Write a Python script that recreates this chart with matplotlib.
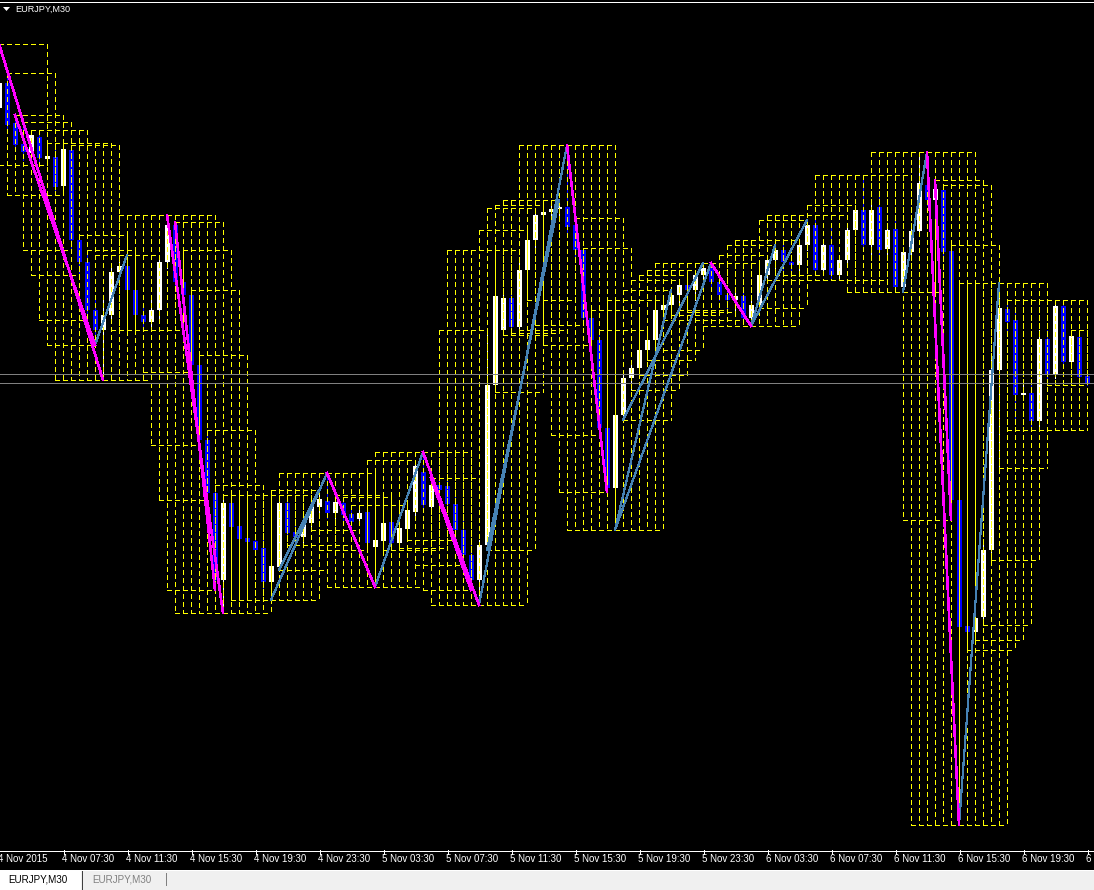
import matplotlib
matplotlib.use("Agg")
import matplotlib.pyplot as plt
from matplotlib.collections import LineCollection
from matplotlib.patches import Rectangle, Polygon
from matplotlib.lines import Line2D
import numpy as np

plt.rcParams['lines.scale_dashes'] = False
plt.rcParams['font.family'] = ['Liberation Sans', 'DejaVu Sans']

symbol = "EURJPY,M30"
first_bar = -1  # bar 0 = 4 Nov 2015 04:00, M30 bars

opens = [132.892, 132.917, 132.877, 132.856, 132.847, 132.863, 132.841, 132.843, 132.814, 132.850,
         132.760, 132.738, 132.690, 132.670, 132.685, 132.728, 132.734, 132.710, 132.685, 132.678,
         132.690, 132.738, 132.775, 132.718, 132.705, 132.635, 132.560, 132.507, 132.420, 132.497,
         132.474, 132.462, 132.459, 132.452, 132.418, 132.433, 132.497, 132.468, 132.463, 132.477,
         132.493, 132.499, 132.487, 132.497, 132.486, 132.481, 132.488, 132.453, 132.459, 132.478,
         132.457, 132.471, 132.488, 132.528, 132.493, 132.515, 132.514, 132.496, 132.470, 132.445,
         132.420, 132.455, 132.615, 132.670, 132.702, 132.673, 132.730, 132.760, 132.785, 132.788,
         132.791, 132.793, 132.775, 132.750, 132.682, 132.660, 132.572, 132.512, 132.585, 132.622,
         132.632, 132.650, 132.660, 132.690, 132.695, 132.705, 132.715, 132.710, 132.725, 132.732,
         132.718, 132.705, 132.700, 132.704, 132.682, 132.695, 132.725, 132.740, 132.750, 132.738,
         132.735, 132.755, 132.775, 132.730, 132.755, 132.725, 132.740, 132.770, 132.790, 132.755,
         132.793, 132.751, 132.771, 132.713, 132.748, 132.769, 132.815, 132.800, 132.810, 132.749,
         132.500, 132.374, 132.368, 132.383, 132.450, 132.630, 132.691, 132.680, 132.605, 132.607,
         132.579, 132.661, 132.626, 132.694, 132.638, 132.663, 132.624]
highs = [132.956, 132.927, 132.885, 132.878, 132.870, 132.870, 132.850, 132.850, 132.857, 132.855,
         132.765, 132.750, 132.705, 132.700, 132.735, 132.740, 132.745, 132.720, 132.695, 132.700,
         132.745, 132.785, 132.778, 132.750, 132.710, 132.645, 132.570, 132.515, 132.500, 132.505,
         132.480, 132.470, 132.465, 132.460, 132.440, 132.505, 132.502, 132.475, 132.485, 132.500,
         132.510, 132.527, 132.505, 132.503, 132.492, 132.495, 132.495, 132.465, 132.482, 132.485,
         132.478, 132.495, 132.540, 132.548, 132.522, 132.520, 132.522, 132.505, 132.480, 132.455,
         132.460, 132.670, 132.750, 132.710, 132.710, 132.738, 132.770, 132.792, 132.795, 132.800,
         132.800, 132.855, 132.782, 132.752, 132.690, 132.670, 132.580, 132.590, 132.630, 132.640,
         132.655, 132.665, 132.700, 132.700, 132.710, 132.720, 132.725, 132.730, 132.737, 132.737,
         132.725, 132.715, 132.710, 132.710, 132.700, 132.730, 132.745, 132.755, 132.760, 132.745,
         132.760, 132.780, 132.785, 132.760, 132.775, 132.745, 132.775, 132.795, 132.825, 132.800,
         132.805, 132.775, 132.780, 132.752, 132.775, 132.848, 132.848, 132.820, 132.815, 132.755,
         132.520, 132.400, 132.410, 132.460, 132.640, 132.717, 132.700, 132.690, 132.615, 132.615,
         132.670, 132.670, 132.700, 132.700, 132.670, 132.670, 132.628]
lows = [132.890, 132.872, 132.850, 132.840, 132.842, 132.835, 132.835, 132.805, 132.810, 132.750,
        132.725, 132.680, 132.655, 132.620, 132.680, 132.715, 132.700, 132.680, 132.672, 132.670,
        132.682, 132.732, 132.710, 132.700, 132.628, 132.555, 132.500, 132.410, 132.387, 132.470,
        132.455, 132.452, 132.445, 132.410, 132.400, 132.430, 132.460, 132.458, 132.455, 132.472,
        132.488, 132.482, 132.482, 132.478, 132.470, 132.475, 132.450, 132.413, 132.454, 132.450,
        132.452, 132.467, 132.485, 132.490, 132.490, 132.500, 132.490, 132.460, 132.435, 132.410,
        132.395, 132.450, 132.608, 132.665, 132.667, 132.670, 132.700, 132.750, 132.778, 132.782,
        132.785, 132.768, 132.742, 132.675, 132.655, 132.565, 132.508, 132.470, 132.580, 132.610,
        132.625, 132.640, 132.650, 132.680, 132.685, 132.695, 132.700, 132.700, 132.715, 132.710,
        132.700, 132.690, 132.688, 132.680, 132.674, 132.692, 132.720, 132.732, 132.730, 132.728,
        132.730, 132.750, 132.725, 132.725, 132.720, 132.720, 132.735, 132.765, 132.750, 132.745,
        132.745, 132.745, 132.708, 132.708, 132.742, 132.765, 132.795, 132.795, 132.742, 132.480,
        132.175, 132.350, 132.360, 132.375, 132.440, 132.532, 132.670, 132.580, 132.600, 132.570,
        132.570, 132.620, 132.622, 132.635, 132.635, 132.620, 132.615]
closes = [132.917, 132.875, 132.855, 132.848, 132.865, 132.842, 132.844, 132.813, 132.851, 132.760,
          132.738, 132.690, 132.670, 132.685, 132.728, 132.734, 132.710, 132.685, 132.678, 132.690,
          132.738, 132.775, 132.718, 132.705, 132.635, 132.560, 132.507, 132.420, 132.497, 132.473,
          132.461, 132.458, 132.450, 132.418, 132.434, 132.497, 132.467, 132.463, 132.477, 132.493,
          132.501, 132.487, 132.498, 132.485, 132.478, 132.487, 132.457, 132.460, 132.477, 132.457,
          132.472, 132.490, 132.534, 132.495, 132.515, 132.510, 132.496, 132.470, 132.445, 132.420,
          132.455, 132.615, 132.704, 132.702, 132.673, 132.730, 132.760, 132.785, 132.788, 132.791,
          132.793, 132.773, 132.750, 132.682, 132.660, 132.572, 132.512, 132.585, 132.622, 132.632,
          132.650, 132.660, 132.690, 132.695, 132.705, 132.715, 132.710, 132.725, 132.732, 132.718,
          132.705, 132.700, 132.704, 132.682, 132.695, 132.725, 132.740, 132.750, 132.738, 132.735,
          132.755, 132.775, 132.730, 132.755, 132.725, 132.740, 132.770, 132.790, 132.755, 132.790,
          132.750, 132.770, 132.713, 132.748, 132.769, 132.817, 132.800, 132.811, 132.748, 132.500,
          132.373, 132.368, 132.382, 132.450, 132.630, 132.692, 132.678, 132.605, 132.607, 132.579,
          132.661, 132.625, 132.694, 132.638, 132.664, 132.623, 132.617]

bid = 132.617
ask = 132.626

time_labels = ["4 Nov 2015", "4 Nov 07:30", "4 Nov 11:30", "4 Nov 15:30", "4 Nov 19:30", "4 Nov 23:30",
               "5 Nov 03:30", "5 Nov 07:30", "5 Nov 11:30", "5 Nov 15:30", "5 Nov 19:30", "5 Nov 23:30",
               "6 Nov 03:30", "6 Nov 07:30", "6 Nov 11:30", "6 Nov 15:30", "6 Nov 19:30", "6 Nov 23:30"]
time_label_bars = [-1, 7, 15, 23, 31, 39, 47, 55, 63, 71, 79, 87, 95, 103, 111, 119, 127, 135]

# zigzag legs (bar of high -> bar of low) and (bar of low -> bar of high)
down_legs = [(-1, 12), (1, 11), (20, 27), (21, 26), (40, 46), (52, 59), (53, 58), (70, 75), (88, 93),
             (115, 119), (116, 118)]
up_legs = [(11, 15), (33, 40), (34, 39), (46, 52), (59, 70), (60, 69), (76, 88), (77, 87), (76, 83),
           (93, 96), (93, 100), (112, 115), (119, 124)]
box_span = 6

# ---------------------------------------------------------------------------
W, H, DPI = 1094, 890, 100
fig = plt.figure(figsize=(W / DPI, H / DPI), dpi=DPI, facecolor='black')


def fx(xp):
    return xp / W


def fy(yp):
    return 1 - yp / H


ax = fig.add_axes([0, fy(848), 1, 848 / H])
ax.set_xlim(-0.875, 135.875)
ax.set_ylim(132.152, 133.000)
ax.set_axis_off()

o = np.array(opens)
h = np.array(highs)
l = np.array(lows)
c = np.array(closes)
n = len(o)
xb = np.arange(first_bar, first_bar + n)
PX = 0.72  # one pixel in points

body_w = 5 / 8
for xi, oi, hi, li, ci in zip(xb, o, h, l, c):
    col = '#FFFFFF' if ci >= oi else '#0000FF'
    ax.add_line(Line2D([xi, xi], [li, hi], color=col, lw=PX, antialiased=False, zorder=2))
    lo_b = min(oi, ci)
    hb = max(abs(ci - oi), 0.001)
    ax.add_patch(Rectangle((xi - body_w / 2, lo_b), body_w, hb, facecolor=col, edgecolor='none',
                           antialiased=False, zorder=3))

segs = []
for j in range(n):
    k = min(j + box_span, n - 1)
    top = h[j:k + 1].max()
    bot = l[j:k + 1].min()
    x0, x1 = xb[j], xb[k]
    segs += [[(x0, top), (x1, top)], [(x0, bot), (x1, bot)],
             [(x0, top), (x0, bot)], [(x1, top), (x1, bot)]]
ax.add_collection(LineCollection(segs, colors='#FFFF00', linewidths=PX,
                                 linestyles=[(0, (5 * PX, 3 * PX))], antialiaseds=False, zorder=4))

ax.axhline(bid, color='#808080', lw=PX, antialiased=False, zorder=5)
ax.axhline(ask, color='#808080', lw=PX, antialiased=False, zorder=5)

for a, b in up_legs:
    ia, ib = a - first_bar, b - first_bar
    ax.add_line(Line2D([xb[ia], xb[ib]], [l[ia], h[ib]], color='#4682B4', lw=1.2 * PX,
                       antialiased=False, zorder=6))
for a, b in down_legs:
    ia, ib = a - first_bar, b - first_bar
    ax.add_line(Line2D([xb[ia], xb[ib]], [h[ia], l[ib]], color='#FF00FF', lw=1.6 * PX,
                       antialiased=False, zorder=7))

# title
fig.text(fx(15), fy(9.5), symbol, color='white', fontsize=6.6, ha='left', va='center')
fig.add_artist(Polygon([(fx(3), fy(7)), (fx(10), fy(7)), (fx(6.5), fy(11))], closed=True,
                       transform=fig.transFigure, facecolor='white', edgecolor='none'))
fig.add_artist(Line2D([0, 1], [fy(1.5), fy(1.5)], transform=fig.transFigure, color='white', lw=PX))

# time axis
fig.add_artist(Line2D([0, 1], [fy(850.5), fy(850.5)], transform=fig.transFigure, color='white', lw=PX))
for lab, b in zip(time_labels, time_label_bars):
    xp = 7 + 8 * b
    if b > first_bar:
        fig.add_artist(Line2D([fx(xp + 0.5), fx(xp + 0.5)], [fy(850), fy(854)], transform=fig.transFigure,
                              color='white', lw=PX, antialiased=False))
    fig.text(fx(xp - 1), fy(859.5), lab, color='white', fontsize=7, ha='left', va='center')

# tab bar
fig.add_artist(Rectangle((0, 0), 1, fy(870), transform=fig.transFigure, facecolor='#F0F0F0',
                         edgecolor='none'))
fig.add_artist(Line2D([0, 1], [fy(869.5), fy(869.5)], transform=fig.transFigure, color='white', lw=PX))
fig.add_artist(Rectangle((0, 0), fx(81), fy(871), transform=fig.transFigure, facecolor='white',
                         edgecolor='none'))
fig.add_artist(Line2D([fx(81.5), fx(81.5)], [fy(871), 0], transform=fig.transFigure, color='#404040',
                      lw=PX))
fig.text(fx(8), fy(880), symbol, color='black', fontsize=7.1, ha='left', va='center')
fig.text(fx(92), fy(880), symbol, color='#808080', fontsize=7.1, ha='left', va='center')
fig.add_artist(Line2D([fx(166), fx(166)], [fy(873), fy(885)], transform=fig.transFigure, color='#808080',
                      lw=PX))

fig.savefig('out.png', dpi=DPI, facecolor='black')
